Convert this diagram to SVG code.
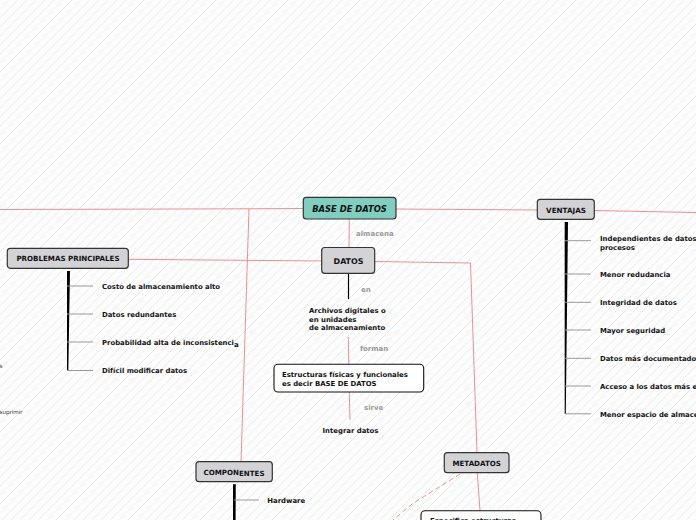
<svg xmlns="http://www.w3.org/2000/svg" width="696" height="520" viewBox="0 0 696 520">
<style>
.t{font-family:"DejaVu Sans",Verdana,sans-serif;font-weight:bold;font-size:6.9px;fill:#111}
.lbl{font-family:"DejaVu Sans",Verdana,sans-serif;font-weight:bold;font-size:7px;fill:#999}
.nl{font-family:"DejaVu Sans",Verdana,sans-serif;font-weight:bold;font-size:7.1px;fill:#111;text-anchor:middle}
.edge{font-family:"DejaVu Sans",Verdana,sans-serif;font-size:5.6px;fill:#333}
.gn{fill:#d3d3d6;stroke:#333;stroke-width:1.2}
.wn{fill:#fff;stroke:#111;stroke-width:1.1}
.rl{fill:none;stroke:#f28e8e;stroke-width:1}
.br{fill:none;stroke:#999;stroke-width:1}
.bk{fill:#000}
</style>
<defs>
<pattern id="hatch" patternUnits="userSpaceOnUse" width="9" height="9">
<path d="M-1,10 L10,-1" stroke="#e4e4e4" stroke-width="0.8"/>
</pattern>
</defs>
<rect width="696" height="520" fill="#fff"/>
<rect width="696" height="520" fill="url(#hatch)"/>

<g id="connectors">
<polyline class="rl" points="0,209.5 249,208.8 303,208.5"/>
<polyline class="rl" points="249,208.8 241,462"/>
<line class="rl" x1="396" y1="209" x2="538" y2="210"/>
<line class="rl" x1="594" y1="210.5" x2="696" y2="212.5"/>
<line class="rl" x1="349.3" y1="219" x2="349" y2="247.5"/>
<line class="rl" x1="322" y1="261" x2="128" y2="259.3"/>
<polyline class="rl" points="375,261.5 470.5,263 477,453"/>
<line x1="348.5" y1="273.5" x2="348.5" y2="299" stroke="#000" stroke-width="1.2"/>
<line class="rl" x1="348.3" y1="337" x2="348.8" y2="364"/>
<line class="rl" x1="349.3" y1="392" x2="350" y2="420"/>
<line class="rl" x1="477.3" y1="473" x2="480" y2="510.7"/>
<path class="rl" d="M460,474 L412,504 L393,520" stroke-dasharray="5,3"/>
<polygon class="bk" points="67,271 70,271 68.3,371 67,371"/>
<line class="br" x1="67" y1="286" x2="93" y2="286"/>
<line class="br" x1="67" y1="314" x2="93" y2="314"/>
<line class="br" x1="67" y1="342" x2="93" y2="342"/>
<line class="br" x1="67" y1="370.5" x2="93" y2="370.5"/>
<polygon class="bk" points="564.7,222 568,222 565.8,414 564.7,414"/>
<line class="br" x1="565" y1="240.7" x2="591" y2="240.7"/>
<line class="br" x1="565" y1="274" x2="591" y2="274"/>
<line class="br" x1="565" y1="302.3" x2="591" y2="302.3"/>
<line class="br" x1="565" y1="330" x2="591" y2="330"/>
<line class="br" x1="565" y1="358.3" x2="591" y2="358.3"/>
<line class="br" x1="565" y1="386" x2="591" y2="386"/>
<line class="br" x1="565" y1="413.8" x2="591" y2="413.8"/>
<polygon class="bk" points="233,484.3 235.8,484.3 235.6,520 233,520"/>
<line class="br" x1="234" y1="500" x2="259" y2="500"/>
<text class="lbl" x="356" y="236">almacena</text>
<text class="lbl" x="361" y="292">en</text>
<text class="lbl" x="360" y="351">forman</text>
<text class="lbl" x="364" y="410">sirve</text>
</g>

<g id="base-de-datos">
<rect x="303.3" y="197.3" width="92.7" height="21.7" rx="3" fill="#7fcebf" stroke="#333" stroke-width="1.2"/>
<text class="nl" x="349.5" y="212" style="font-size:8.4px;font-style:italic">BASE DE DATOS</text>
</g>

<g id="datos">
<rect class="gn" x="321.7" y="247.5" width="53" height="25.8" rx="3"/>
<text class="nl" x="348.5" y="264" style="font-size:7.9px">DATOS</text>
</g>

<g id="archivos">
<text class="t" x="309" y="313">Archivos digitales o</text>
<text class="t" x="309" y="321.5">en unidades</text>
<text class="t" x="309" y="330">de almacenamiento</text>
</g>

<g id="estructuras">
<rect class="wn" x="274" y="364.3" width="149.7" height="27.7" rx="4"/>
<text class="t" x="282" y="377">Estructuras físicas y funcionales</text>
<text class="t" x="282" y="386">es decir BASE DE DATOS</text>
</g>

<g id="integrar">
<text class="t" x="350.5" y="433" text-anchor="middle">Integrar datos</text>
</g>

<g id="problemas">
<rect class="gn" x="7.3" y="248.3" width="121" height="20" rx="3"/>
<text class="nl" x="68" y="261">PROBLEMAS PRINCIPALES</text>
<text class="t" x="102" y="288.5">Costo de almacenamiento alto</text>
<text class="t" x="102" y="316.5">Datos redundantes</text>
<text class="t" x="102" y="344.5">Probabilidad alta de inconsistenci<tspan dy="2">a</tspan></text>
<text class="t" x="102" y="373">Difícil modificar datos</text>
</g>

<g id="ventajas">
<rect class="gn" x="537.3" y="199.3" width="57" height="20" rx="3"/>
<text class="nl" x="566" y="212.5" style="font-size:7.2px">VENTAJAS</text>
<text class="t" x="600" y="241">Independientes de datos y</text>
<text class="t" x="600" y="249.5">procesos</text>
<text class="t" x="600" y="277">Menor redudancia</text>
<text class="t" x="600" y="305">Integridad de datos</text>
<text class="t" x="600" y="332.8">Mayor seguridad</text>
<text class="t" x="600" y="361">Datos más documentados</text>
<text class="t" x="600" y="388.8">Acceso a los datos más eficiente</text>
<text class="t" x="600" y="416.5">Menor espacio de almacenamiento</text>
</g>

<g id="componentes">
<rect class="gn" x="196" y="461.7" width="76.3" height="20" rx="3"/>
<text class="nl" x="234" y="474.5">COMPON<tspan dy="1">ENTES</tspan></text>
<text class="t" x="267.3" y="502.5">Hardware</text>
</g>

<g id="metadatos">
<rect class="gn" x="444.3" y="452.7" width="64.7" height="20" rx="3"/>
<text class="nl" x="476.7" y="466">METADATOS</text>
<rect class="wn" x="421" y="510.7" width="120" height="30" rx="4"/>
<text class="t" x="430" y="523.3">Especifica estructuras</text>
</g>

<g id="offscreen-left">
<text class="edge" x="-0.5" y="368">s</text>
<text class="edge" x="-0.5" y="414">suprimir</text>
</g>
</svg>
